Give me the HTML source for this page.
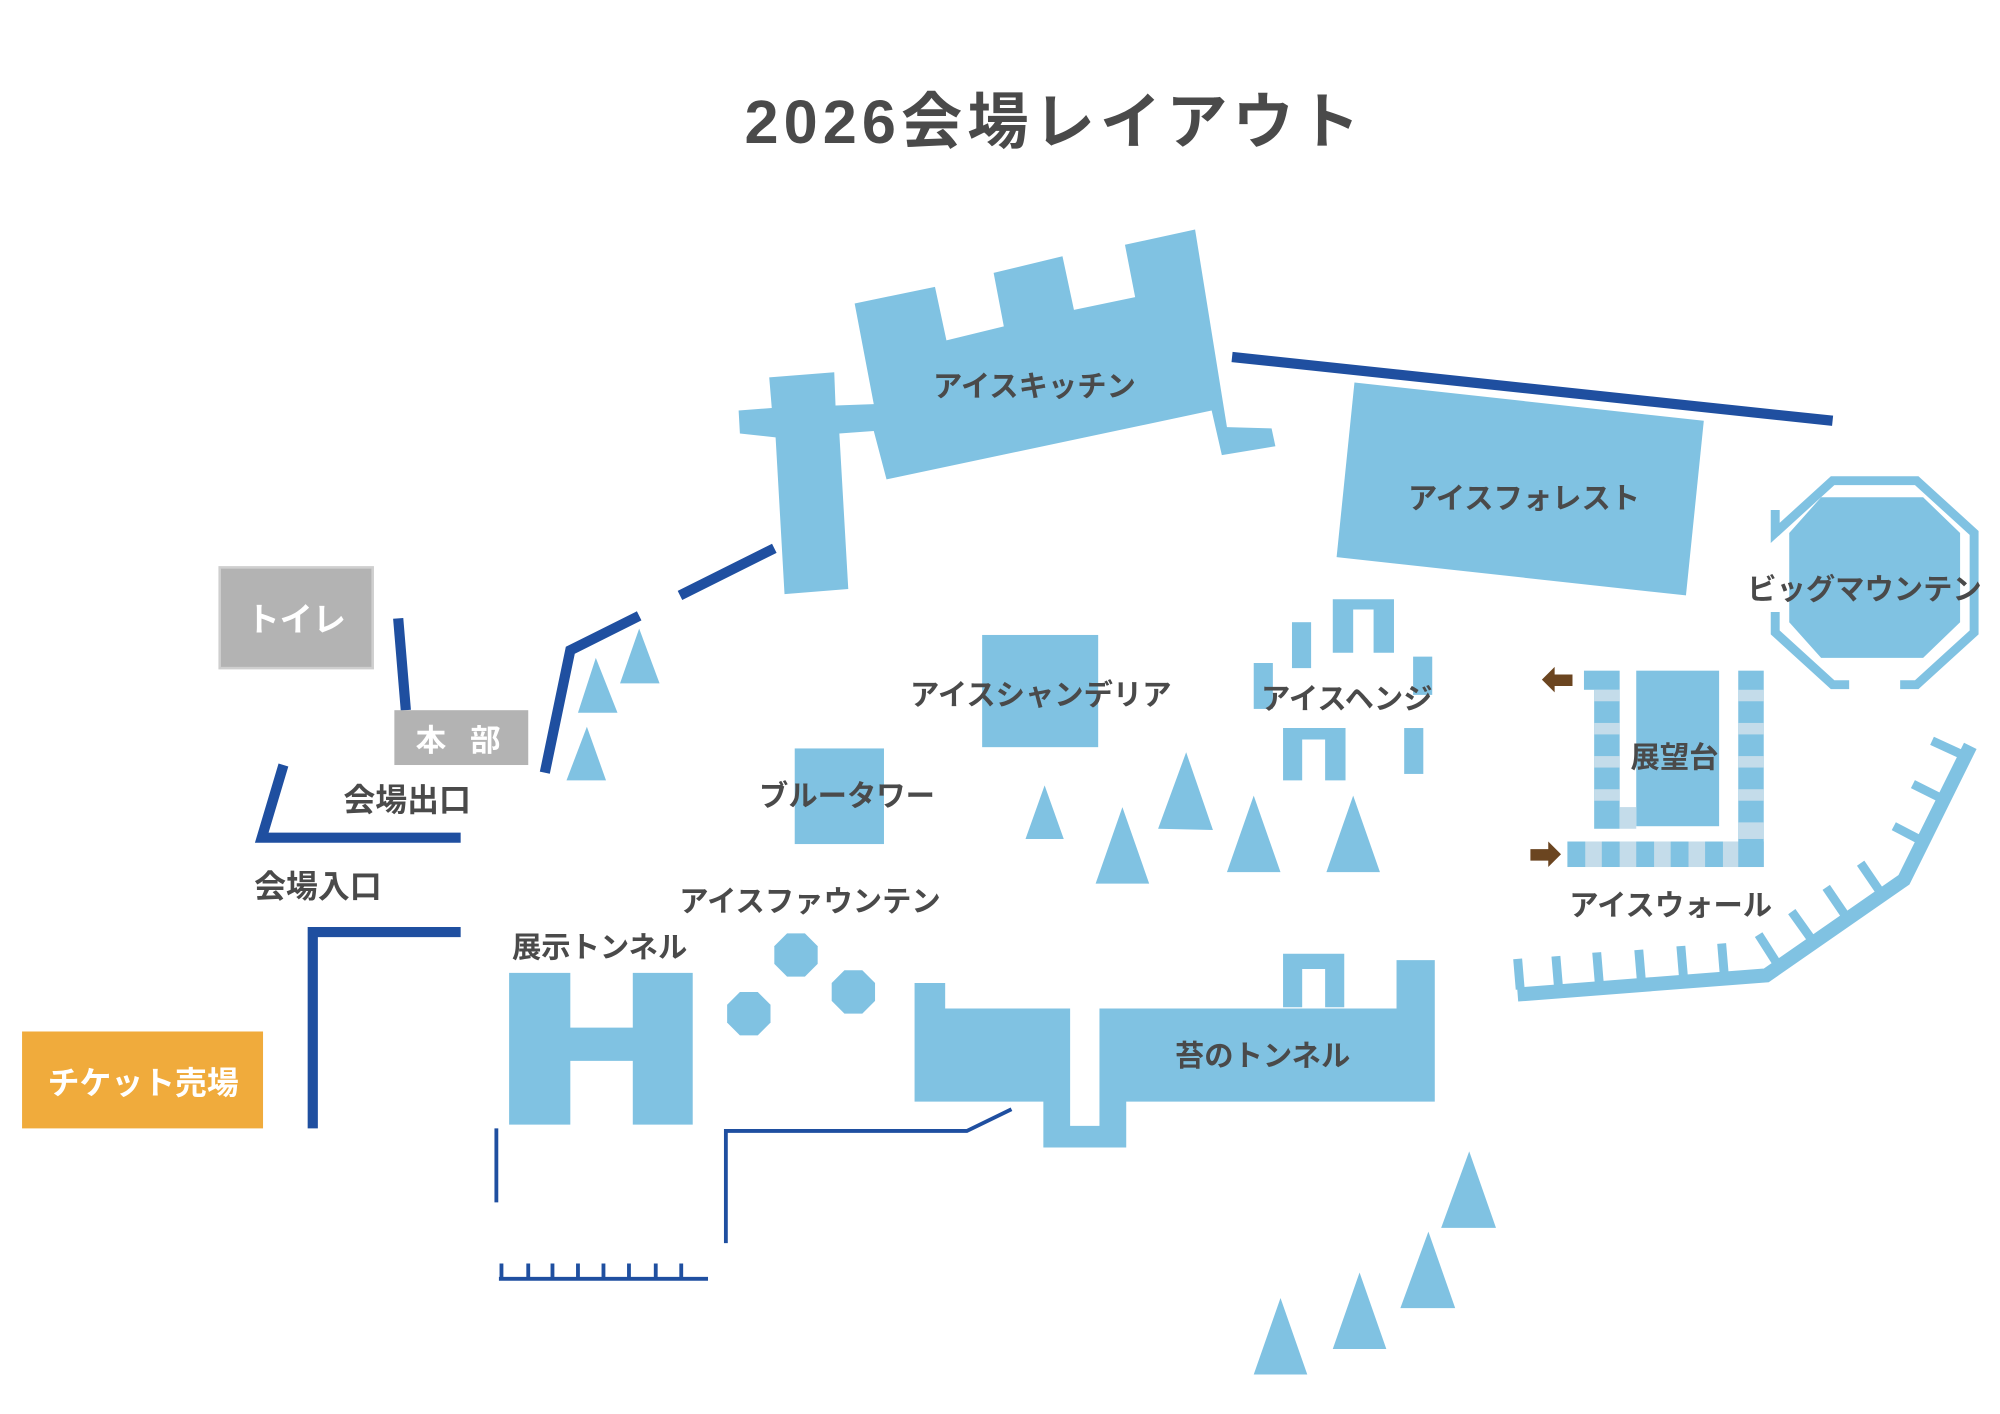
<!DOCTYPE html>
<html><head><meta charset="utf-8"><style>
html,body{margin:0;padding:0;background:#fff;}
svg{display:block;}
text{font-family:"Liberation Sans","Noto Sans CJK JP",sans-serif;font-weight:bold;fill:#4a4a4a;text-anchor:middle;}
</style></head><body>
<svg width="2000" height="1414" viewBox="0 0 1568 1109" xmlns="http://www.w3.org/2000/svg">
<rect width="1568" height="1109" fill="#fff"/>
<text x="827" y="112" font-size="48" letter-spacing="4">2026会場レイアウト</text>
<g fill="#80c2e2">
<polygon points="670,238 733,225 742,267 787,256 779,214 833,201 842,243 890,233 882,192 937,180 962,335 997,336 1000,350 958,357 950,322 695,376 685,338 658,340 665,462 615,466 608,343 580,340 579,322 605,320 603,296 654,292 655,318 685,317"/>
<polygon points="1062,300 1336,330 1322,467 1048,437"/>
<polygon points="1428,390 1508,390 1537,418 1537,488 1508,516 1428,516 1403,488 1403,418"/>
<rect x="770" y="498" width="91" height="88"/>
<rect x="623" y="587" width="70" height="75"/>
<rect x="1013" y="488" width="15" height="36"/>
<path d="M1045,470H1093V512H1077V478H1061V512H1045Z"/>
<rect x="983" y="520" width="15" height="36"/>
<rect x="1108" y="515" width="15" height="30"/>
<path d="M1006,571H1055V612H1039V580H1021V612H1006Z"/>
<rect x="1101" y="571" width="15" height="36"/>
<path d="M1006,748H1054V790H1039V760H1021V790H1006Z"/>
<rect x="1283" y="526" width="65" height="122"/>
<polygon points="467,516 484,559 453,559"/><polygon points="501,493 517,536 486,536"/><polygon points="460,570 475,612 444,612"/>
<polygon points="819,616 834,658 804,658"/><polygon points="930,590 951,651 908,650"/><polygon points="880,633 901,693 859,693"/>
<polygon points="983,624 1004,684 962,684"/><polygon points="1061,624 1082,684 1040,684"/>
<polygon points="1152,903 1173,963 1130,963"/><polygon points="1120,966 1141,1026 1098,1026"/>
<polygon points="1066,998 1087,1058 1045,1058"/><polygon points="1004,1018 1025,1078 983,1078"/>
<path d="M399,763H447V806H496V763H543V882H496V832H447V882H399Z"/>
<polygon points="717,771 741,771 741,791 839,791 839,883 862,883 862,791 1095,791 1095,753 1125,753 1125,864 883,864 883,900 818,900 818,864 717,864"/>
<polygon points="617,732 631,732 641,742 641,756 631,766 617,766 607,756 607,742"/>
<polygon points="580,778 594,778 604,788 604,802 594,812 580,812 570,802 570,788"/>
<polygon points="662,761 676,761 686,771 686,785 676,795 662,795 652,785 652,771"/>
</g>
<polyline points="1392,400 1392,418 1437,377 1503,377 1548,418 1548,496 1503,537 1490,537" fill="none" stroke="#80c2e2" stroke-width="7"/>
<polyline points="1450,537 1437,537 1392,496 1392,480" fill="none" stroke="#80c2e2" stroke-width="7"/>
<g>
<rect x="1242" y="526" width="28" height="15" fill="#80c2e2"/>
<rect x="1250" y="541" width="20" height="109" fill="#80c2e2"/>
<rect x="1363" y="526" width="20" height="154" fill="#80c2e2"/>
<rect x="1229" y="660" width="154" height="20" fill="#80c2e2"/>
<g fill="#c4dcea">
<rect x="1250" y="541" width="20" height="9"/><rect x="1250" y="567" width="20" height="9"/><rect x="1250" y="593" width="20" height="9"/><rect x="1250" y="619" width="20" height="9"/>
<rect x="1270" y="633" width="13" height="17"/>
<rect x="1363" y="541" width="20" height="9"/><rect x="1363" y="567" width="20" height="9"/><rect x="1363" y="593" width="20" height="9"/><rect x="1363" y="619" width="20" height="9"/><rect x="1363" y="645" width="20" height="13"/>
<rect x="1243" y="660" width="13" height="20"/><rect x="1270" y="660" width="13" height="20"/><rect x="1297" y="660" width="13" height="20"/><rect x="1324" y="660" width="13" height="20"/><rect x="1351" y="660" width="12" height="20"/>
</g>
<polygon points="1209,533 1219,523 1219,529 1233,529 1233,538 1219,538 1219,543" fill="#6b4520"/>
<polygon points="1224,670 1214,660 1214,666 1200,666 1200,675 1214,675 1214,680" fill="#6b4520"/>
</g>
<g stroke="#80c2e2" fill="none">
<polyline points="1190,780 1385,765 1493,690 1545,585" stroke-width="11"/>
<g stroke-width="7">
<line x1="1192" y1="776" x2="1190" y2="752"/><line x1="1222" y1="774" x2="1220" y2="750"/><line x1="1254" y1="771" x2="1252" y2="747"/><line x1="1287" y1="769" x2="1285" y2="745"/><line x1="1320" y1="766" x2="1318" y2="742"/><line x1="1352" y1="764" x2="1350" y2="740"/>
<line x1="1393" y1="755" x2="1379" y2="733"/><line x1="1420" y1="736" x2="1405" y2="715"/><line x1="1447" y1="718" x2="1432" y2="696"/><line x1="1474" y1="699" x2="1459" y2="677"/>
<line x1="1508" y1="660" x2="1485" y2="648"/><line x1="1524" y1="627" x2="1500" y2="615"/><line x1="1541" y1="593" x2="1515" y2="581"/>
</g></g>
<g stroke="#1f4fa0" fill="none" stroke-width="8">
<line x1="966" y1="280" x2="1437" y2="330"/>
<line x1="607" y1="430" x2="533" y2="467"/>
<polyline points="501,483 447,510 427,606"/>
<line x1="312" y1="485" x2="318" y2="557"/>
<polyline points="222,600 205,657 361,657"/>
<polyline points="361,731 245,731 245,885"/>
</g>
<g stroke="#1f4fa0" fill="none" stroke-width="3">
<line x1="389" y1="885" x2="389" y2="943"/>
<polyline points="569,975 569,887 758,887 793,870"/>
<line x1="391" y1="1003" x2="555" y2="1003"/>
<path d="M393,1003V991M414,1003V991M433,1003V991M453,1003V991M473,1003V991M493,1003V991M514,1003V991M534,1003V991"/>
</g>
<rect x="172" y="445" width="120" height="79" fill="#b3b3b3" stroke="#cfcfcf" stroke-width="2"/>
<rect x="309" y="557" width="105" height="43" fill="#b3b3b3"/>
<rect x="17" y="809" width="189" height="76" fill="#f0ab3c"/>
<text x="232" y="495" font-size="26" style="fill:#fff">トイレ</text>
<text x="362" y="589" font-size="24" style="fill:#fff" letter-spacing="6">本 部</text>
<text x="112" y="858" font-size="25" style="fill:#fff">チケット売場</text>
<g font-size="23">
<text x="811" y="311">アイスキッチン</text>
<text x="1195" y="399">アイスフォレスト</text>
<text x="1462" y="470">ビッグマウンテン</text>
<text x="816" y="553">アイスシャンデリア</text>
<text x="1056" y="556">アイスヘンジ</text>
<text x="1313" y="602">展望台</text>
<text x="664" y="632">ブルータワー</text>
<text x="319" y="636" font-size="25">会場出口</text>
<text x="249" y="704" font-size="25">会場入口</text>
<text x="635" y="715">アイスファウンテン</text>
<text x="470" y="751">展示トンネル</text>
<text x="990" y="836">苔のトンネル</text>
<text x="1310" y="718">アイスウォール</text>
</g>
</svg>
</body></html>
